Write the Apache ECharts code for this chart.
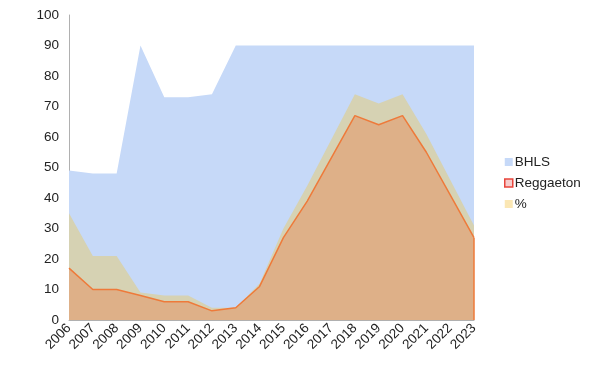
<!DOCTYPE html>
<html>
<head>
<meta charset="utf-8">
<script src="https://cdn.jsdelivr.net/npm/echarts@6/dist/echarts.min.js"></script>
<style>
  html, body { margin: 0; padding: 0; background: #fff; }
  #chart { width: 592px; height: 368px; }
</style>
</head>
<body>
<div id="chart"></div>
<script>
// datos
var aYears = ['2006', '2007', '2008', '2009', '2010', '2011', '2012', '2013', '2014',
    '2015', '2016', '2017', '2018', '2019', '2020', '2021', '2022', '2023'];
var aBHLS = [49, 48, 48, 90, 73, 73, 74, 90, 90, 90, 90, 90, 90, 90, 90, 90, 90, 90];
var aReggaeton = [17, 10, 10, 8, 6, 6, 3, 4, 11, 27, 39, 53, 67, 64, 67, 55, 41, 27];
var aPercent = [35, 21, 21, 9, 8, 8, 4, 4, 12, 30, 44, 59, 74, 71, 74, 61, 46, 31];

var sFont = 'Liberation Sans, Arial, sans-serif';
var iLast = aYears.length - 1;

var jOption = {
    animation: false,
    grid: {left: 69, right: 118, top: 15, bottom: 48},
    legend: {
        orient: 'vertical',
        left: 499,
        top: 150,
        itemWidth: 8,
        itemHeight: 8,
        itemGap: 7,
        icon: 'rect',
        textStyle: {fontFamily: sFont, fontSize: 13.5, color: '#222', padding: [0, 0, 0, -3]},
        data: [
            {name: 'BHLS', itemStyle: {color: '#c6d9f8', borderWidth: 0}},
            {name: 'Reggaeton', itemStyle: {color: '#f6cccc', borderColor: '#e8453c', borderWidth: 1.5}},
            {name: '%', itemStyle: {color: '#fbe7b4', borderWidth: 0}}
        ]
    },
    xAxis: {
        type: 'category',
        boundaryGap: false,
        data: aYears,
        axisLine: {lineStyle: {color: '#b0b0b0'}},
        axisTick: {show: false},
        axisLabel: {rotate: 45, fontFamily: sFont, fontSize: 13.5, color: '#222', margin: 6, interval: 0}
    },
    yAxis: {
        type: 'value',
        min: 0,
        max: 100,
        interval: 10,
        splitLine: {show: false},
        axisLine: {show: true, lineStyle: {color: '#b0b0b0'}},
        axisTick: {show: false},
        axisLabel: {fontFamily: sFont, fontSize: 13.5, color: '#222', margin: 10}
    },
    series: [
        {
            name: 'BHLS',
            type: 'line',
            data: aBHLS,
            symbol: 'none',
            lineStyle: {width: 0},
            itemStyle: {color: '#c6d9f8'},
            areaStyle: {color: '#c6d9f8', opacity: 1}
        },
        {
            name: '%',
            type: 'line',
            data: aPercent,
            symbol: 'none',
            lineStyle: {width: 0},
            itemStyle: {color: '#d6d2b3'},
            areaStyle: {color: '#d6d2b3', opacity: 1}
        },
        {
            name: 'Reggaeton',
            type: 'line',
            data: aReggaeton,
            symbol: 'none',
            lineStyle: {width: 1.5, color: '#ee7a3a'},
            itemStyle: {color: '#ee7a3a'},
            areaStyle: {color: '#deb088', opacity: 1},
            // borde del area en el ultimo año
            markLine: {
                silent: true,
                symbol: 'none',
                label: {show: false},
                lineStyle: {color: '#ee7a3a', width: 1.5, type: 'solid'},
                data: [
                    [{coord: [aYears[iLast], 0]}, {coord: [aYears[iLast], aReggaeton[iLast]]}]
                ]
            }
        }
    ]
};

var myChart = echarts.init(document.getElementById('chart'));
myChart.setOption(jOption);
</script>
</body>
</html>
